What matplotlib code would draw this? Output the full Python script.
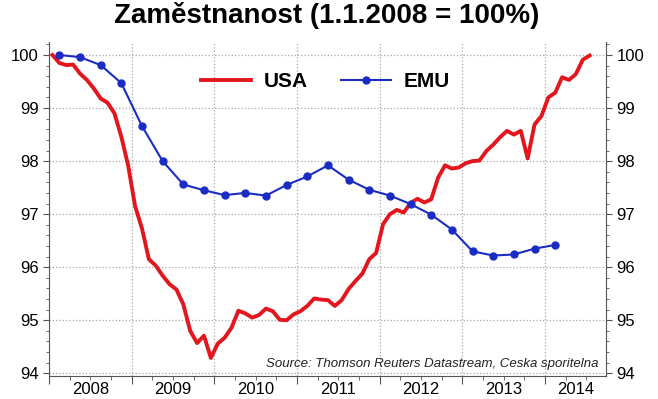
import numpy as np
import matplotlib.pyplot as plt
from matplotlib.ticker import MultipleLocator, NullFormatter
from matplotlib.lines import Line2D

plt.rcParams['font.family'] = ['Liberation Sans', 'DejaVu Sans']

# USA - mesicni data, leden 2008 .. cervenec 2014
usa = [100.0, 99.85, 99.81, 99.82, 99.65, 99.53, 99.37, 99.18, 99.10, 98.90,
       98.46, 97.91, 97.15, 96.73, 96.15, 96.03, 95.84, 95.68, 95.58, 95.30,
       94.80, 94.57, 94.71, 94.29, 94.56, 94.67, 94.86, 95.18, 95.13, 95.05,
       95.10, 95.22, 95.17, 95.01, 95.00, 95.11, 95.17, 95.27, 95.41, 95.39,
       95.38, 95.27, 95.38, 95.59, 95.74, 95.88, 96.15, 96.27, 96.81, 97.00,
       97.08, 97.03, 97.21, 97.29, 97.22, 97.28, 97.69, 97.92, 97.86, 97.88,
       97.96, 98.00, 98.01, 98.19, 98.31, 98.45, 98.57, 98.50, 98.57, 98.05,
       98.69, 98.85, 99.20, 99.29, 99.58, 99.53, 99.64, 99.91, 99.99]

# EMU - ctvrtletni data, Q1 2008 .. Q1 2014
emu = [100.0, 99.96, 99.81, 99.47, 98.66, 98.00, 97.56, 97.45, 97.36, 97.40,
       97.35, 97.55, 97.71, 97.92, 97.65, 97.46, 97.35, 97.19, 96.99, 96.71,
       96.30, 96.22, 96.24, 96.35, 96.42]

years = [2008, 2009, 2010, 2011, 2012, 2013, 2014]

# casova osa v letech
x_usa = 2008 + (np.arange(len(usa)) + 0.5) / 12
x_emu = 2008 + (np.arange(len(emu)) + 0.5) / 4

fig = plt.figure(figsize=(6.58, 3.99), dpi=100)
ax = fig.add_axes([0.0745, 0.0564, 0.8465, 0.8383])

red = '#e2161c'
blue = '#1b2cc4'

ax.plot(x_usa, usa, color=red, lw=2.8, solid_joinstyle='round', zorder=3)
ax.plot(x_emu, emu, color=blue, lw=1.5, marker='o', ms=5, zorder=4)

ax.set_xlim(2008, 2014.74)
ax.set_ylim(93.94, 100.245)

ax.xaxis.set_major_locator(MultipleLocator(1))
ax.xaxis.set_minor_locator(MultipleLocator(0.25))
ax.xaxis.set_major_formatter(NullFormatter())
ax.yaxis.set_major_locator(MultipleLocator(1))
ax.yaxis.set_minor_locator(MultipleLocator(0.2))

ax.grid(True, which='major', color='#a8a8a8', ls=':', lw=0.9)

for s in ['left', 'right', 'bottom']:
    ax.spines[s].set_color('#555555')
ax.spines['top'].set_visible(False)

ax.tick_params(axis='x', which='major', length=6, color='#555555')
ax.tick_params(axis='x', which='minor', length=3, color='#555555')
ax.tick_params(axis='y', which='major', length=4, color='#555555',
               labelsize=12, right=True, labelright=True)
ax.tick_params(axis='y', which='minor', length=2, color='#555555', right=True)

# popisky let mezi ticky
x_end = ax.get_xlim()[1]
for y in years:
    xc = y + 0.5 if y + 1 <= x_end else (y + x_end) / 2
    ax.text(xc, -0.052, str(y), transform=ax.get_xaxis_transform(),
            ha='center', va='baseline', fontsize=12)

fig.text(0.497, 0.942, 'Zaměstnanost (1.1.2008 = 100%)', fontsize=20,
         fontweight='bold', ha='center', va='baseline')

handles = [Line2D([], [], color=red, lw=2.8),
           Line2D([], [], color=blue, lw=1.5, marker='o', ms=5,
                  markevery=[0, -1])]
leg = fig.legend(handles, ['USA', 'EMU'], loc='center', ncol=2,
                 bbox_to_anchor=(0.495, 0.795), frameon=False,
                 prop={'weight': 'bold', 'size': 15}, handlelength=2.4,
                 handletextpad=0.6, columnspacing=1.6)

ax.text(0.986, 0.036, 'Source: Thomson Reuters Datastream, Ceska sporitelna',
        transform=ax.transAxes, ha='right', va='center', fontsize=9.5,
        style='italic', color='#222222')

fig.savefig('out.png', dpi=100)
